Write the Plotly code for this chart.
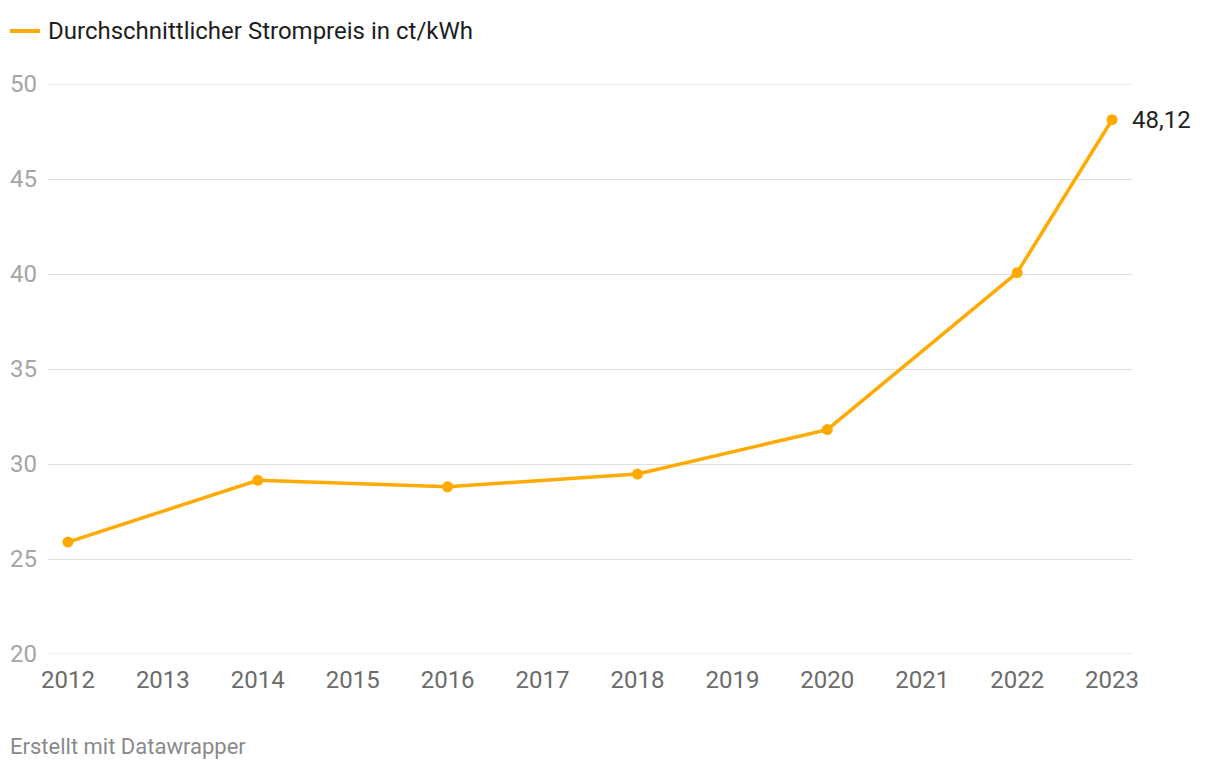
import plotly.graph_objects as go

years = [2012, 2014, 2016, 2018, 2020, 2022, 2023]
prices = [25.89, 29.14, 28.80, 29.47, 31.81, 40.07, 48.12]
x_ticks = list(range(2012, 2024))
y_ticks = [20, 25, 30, 35, 40, 45, 50]
series_name = "Durchschnittlicher Strompreis in ct/kWh"
last_label = "48,12"
footer = "Erstellt mit Datawrapper"

color = "#ffaa00"
grid_color = "#dedede"
OFF = 8  # page body margin
W, H = 1220 - 2 * OFF, 770 - 2 * OFF
L, R, T, B = 48 - OFF, 88 - OFF, 84 - OFF, 116 - OFF
pw, ph = W - L - R, H - T - B

def px(xp):
    return (xp - OFF - L) / pw

def py(yp):
    return (H - B - (yp - OFF)) / ph

fig = go.Figure()

# edge gridlines (Plotly hides gridlines on the plot border)
for yv in (y_ticks[0], y_ticks[-1]):
    fig.add_shape(type="line", xref="paper", yref="y", x0=0, x1=1, y0=yv, y1=yv,
                  line=dict(color=grid_color, width=1), layer="below")

fig.add_trace(go.Scatter(
    x=years, y=prices, mode="lines+markers",
    line=dict(color=color, width=3.5),
    marker=dict(color=color, size=11),
    name=series_name, showlegend=False, hoverinfo="x+y",
))

fig.add_annotation(x=years[-1], y=prices[-1], text=last_label, showarrow=False,
                   xanchor="left", yanchor="middle", xshift=18,
                   font=dict(family="Roboto", size=24, color="#222222"))

# legend
fig.add_shape(type="line", xref="paper", yref="paper",
              x0=px(10), x1=px(40), y0=py(31), y1=py(31),
              line=dict(color=color, width=4))
fig.add_annotation(xref="paper", yref="paper", x=px(46), y=py(31), text=series_name,
                   showarrow=False, xanchor="left", yanchor="middle",
                   font=dict(family="Roboto", size=24, color="#1d1d1d"))
fig.add_annotation(xref="paper", yref="paper", x=px(8), y=py(746), text=footer,
                   showarrow=False, xanchor="left", yanchor="middle",
                   font=dict(family="Roboto", size=22, color="#8a8a8a"))

fig.update_layout(
    width=W, height=H,
    margin=dict(l=L, r=R, t=T, b=B, pad=0, autoexpand=False),
    paper_bgcolor="white", plot_bgcolor="white",
    font=dict(family="Roboto"),
    xaxis=dict(range=[2011.79, 2023.21], tickvals=x_ticks, ticktext=[str(v) for v in x_ticks],
               showgrid=False, zeroline=False, showline=False, ticks="",
               ticklabelstandoff=9, automargin=False,
               tickfont=dict(family="Roboto", size=24, color="#6b6b6b")),
    yaxis=dict(range=[20, 50], tickvals=y_ticks, showgrid=True, gridcolor=grid_color,
               gridwidth=1, zeroline=False, showline=False, ticks="",
               ticklabelstandoff=10, automargin=False,
               tickfont=dict(family="Roboto", size=24, color="#a5a5a5")),
)

fig.write_html("out.html")
